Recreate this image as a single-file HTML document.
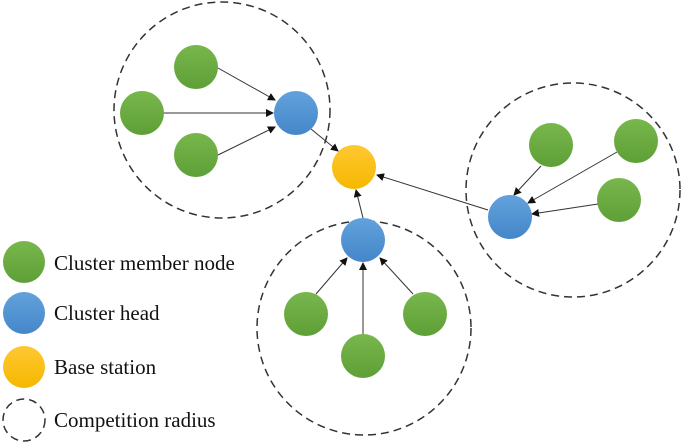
<!DOCTYPE html>
<html><head><style>body{margin:0;background:#fff}svg{display:block}</style></head><body>
<svg width="685" height="443" viewBox="0 0 685 443" xmlns="http://www.w3.org/2000/svg">
<defs>
<linearGradient id="g" x1="0" y1="0" x2="0" y2="1"><stop offset="0" stop-color="#78b74c"/><stop offset="1" stop-color="#5e9f37"/></linearGradient>
<linearGradient id="b" x1="0" y1="0" x2="0" y2="1"><stop offset="0" stop-color="#62a2dc"/><stop offset="1" stop-color="#4486c9"/></linearGradient>
<linearGradient id="y" x1="0" y1="0" x2="0" y2="1"><stop offset="0" stop-color="#ffc832"/><stop offset="1" stop-color="#f5b800"/></linearGradient>
<marker id="a" markerWidth="8" markerHeight="8" refX="7" refY="4" orient="auto" markerUnits="userSpaceOnUse"><path d="M0,0 L8,4 L0,8z" fill="#111"/></marker>
</defs>
<g fill="none" stroke="#333" stroke-width="1.5" stroke-dasharray="8,5">
<circle cx="222" cy="110" r="108"/>
<circle cx="364" cy="328" r="107"/>
<circle cx="573" cy="190" r="107"/>
<circle cx="24" cy="420" r="21"/>
</g>
<g stroke="#333" stroke-width="1" marker-end="url(#a)">
<line x1="218" y1="68" x2="275" y2="100"/>
<line x1="164" y1="113" x2="273" y2="113"/>
<line x1="218" y1="155" x2="275" y2="127"/>
<line x1="311" y1="129" x2="338" y2="151"/>
<line x1="363" y1="218" x2="356" y2="190"/>
<line x1="488" y1="210" x2="377" y2="175"/>
<line x1="316" y1="294" x2="347" y2="258"/>
<line x1="363" y1="334" x2="363" y2="263"/>
<line x1="413" y1="294" x2="380" y2="258"/>
<line x1="541" y1="166" x2="514" y2="195"/>
<line x1="617" y1="152" x2="528" y2="203"/>
<line x1="598" y1="204" x2="532" y2="214"/>
</g>
<g fill="url(#g)">
<circle cx="196" cy="67" r="22"/><circle cx="142" cy="113" r="22"/><circle cx="196" cy="155" r="22"/>
<circle cx="306" cy="314" r="22"/><circle cx="425" cy="314" r="22"/><circle cx="363" cy="356" r="22"/>
<circle cx="551" cy="145" r="22"/><circle cx="636" cy="141" r="22"/><circle cx="619" cy="200" r="22"/>
<circle cx="24" cy="262" r="21"/>
</g>
<g fill="url(#b)">
<circle cx="296" cy="113" r="22"/><circle cx="363" cy="240" r="22"/><circle cx="510" cy="217" r="22"/>
<circle cx="24" cy="313" r="21"/>
</g>
<g fill="url(#y)"><circle cx="354" cy="167" r="22"/><circle cx="24" cy="367" r="21"/></g>
<g font-family="Liberation Serif, serif" font-size="21" fill="#111">
<text x="54" y="270">Cluster member node</text>
<text x="54" y="320">Cluster head</text>
<text x="54" y="374">Base station</text>
<text x="54" y="427">Competition radius</text>
</g>
</svg>
</body></html>
